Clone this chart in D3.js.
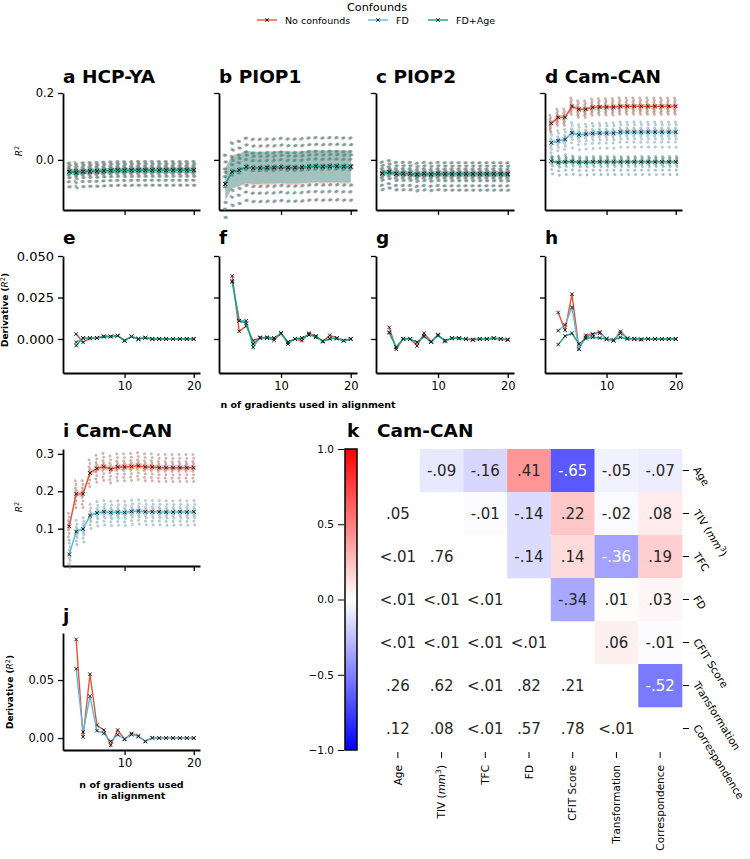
<!DOCTYPE html>
<html><head><meta charset="utf-8">
<script src="https://cdn.jsdelivr.net/npm/d3@7"></script>
<style>
body{margin:0;background:#fff;}
svg{font-family:"DejaVu Sans",sans-serif;display:block;}
</style></head>
<body><div id="fig"></div>
<script>
// ---- data ----
const confounds = ['No confounds', 'FD', 'FD+Age'];
const nGrad = [2,3,4,5,6,7,8,9,10,11,12,13,14,15,16,17,18,19,20];
const nDeriv = [3,4,5,6,7,8,9,10,11,12,13,14,15,16,17,18,19,20];

// R^2 means (a-d, i)
const hcpNo    = [-0.036,-0.033,-0.035,-0.034,-0.034,-0.033,-0.032,-0.032,-0.031,-0.032,-0.031,-0.031,-0.031,-0.031,-0.031,-0.031,-0.031,-0.031,-0.031];
const hcpFD    = [-0.036,-0.038,-0.035,-0.035,-0.034,-0.033,-0.032,-0.031,-0.032,-0.031,-0.031,-0.031,-0.031,-0.031,-0.031,-0.031,-0.031,-0.031,-0.031];
const hcpFDAge = [-0.035,-0.039,-0.035,-0.034,-0.034,-0.033,-0.032,-0.031,-0.032,-0.031,-0.031,-0.031,-0.031,-0.031,-0.031,-0.031,-0.031,-0.031,-0.031];
const p1No     = [-0.072,-0.034,-0.030,-0.022,-0.026,-0.026,-0.026,-0.026,-0.023,-0.025,-0.025,-0.025,-0.022,-0.021,-0.022,-0.021,-0.021,-0.022,-0.022];
const p1FD     = [-0.073,-0.037,-0.031,-0.021,-0.024,-0.024,-0.023,-0.023,-0.021,-0.023,-0.023,-0.022,-0.020,-0.019,-0.020,-0.019,-0.019,-0.020,-0.020];
const p1FDAge  = [-0.072,-0.037,-0.031,-0.021,-0.024,-0.024,-0.023,-0.023,-0.021,-0.023,-0.023,-0.022,-0.020,-0.019,-0.020,-0.019,-0.019,-0.020,-0.020];
const p2No     = [-0.042,-0.036,-0.042,-0.042,-0.042,-0.046,-0.043,-0.044,-0.042,-0.043,-0.043,-0.043,-0.043,-0.043,-0.043,-0.043,-0.043,-0.043,-0.044];
const p2FD     = [-0.041,-0.037,-0.042,-0.042,-0.042,-0.044,-0.042,-0.044,-0.042,-0.043,-0.043,-0.043,-0.043,-0.043,-0.043,-0.043,-0.043,-0.043,-0.043];
const p2FDAge  = [-0.040,-0.036,-0.041,-0.041,-0.041,-0.043,-0.041,-0.043,-0.041,-0.042,-0.042,-0.042,-0.042,-0.042,-0.042,-0.042,-0.042,-0.042,-0.042];
const camNo    = [0.109,0.127,0.127,0.160,0.151,0.151,0.157,0.158,0.158,0.158,0.160,0.160,0.160,0.160,0.160,0.160,0.160,0.160,0.160];
const camFD    = [0.051,0.057,0.061,0.081,0.075,0.077,0.079,0.080,0.080,0.080,0.083,0.083,0.083,0.083,0.083,0.083,0.083,0.083,0.083];
const camFDAge = [-0.004,-0.008,-0.006,-0.005,-0.007,-0.007,-0.006,-0.006,-0.006,-0.006,-0.006,-0.006,-0.006,-0.006,-0.006,-0.006,-0.006,-0.006,-0.006];
const ageNo    = [0.106,0.193,0.193,0.249,0.261,0.266,0.259,0.265,0.265,0.266,0.268,0.265,0.265,0.263,0.263,0.263,0.263,0.263,0.263];
const ageFD    = [0.031,0.092,0.099,0.135,0.142,0.145,0.143,0.144,0.143,0.146,0.147,0.145,0.145,0.145,0.144,0.144,0.145,0.144,0.145];

// per-fold deviations from the mean (dots)
const hcpFolds      = [0.026,0.019,0.012,0.006,0.002,-0.004,-0.010,-0.018,-0.030,-0.045];
const p1Folds       = [0.086,0.066,0.045,0.035,0.022,0.005,-0.008,-0.055,-0.075,-0.100];
const p2Folds       = [0.034,0.024,0.015,0.008,0.002,-0.005,-0.012,-0.020,-0.035,-0.048];
const camFoldsNo    = [0.025,0.018,0.012,0.006,0.002,-0.003,-0.008,-0.013,-0.018,-0.024];
const camFoldsFD    = [0.030,0.022,0.012,0.006,0.001,-0.005,-0.012,-0.020,-0.030,-0.045];
const camFoldsFDAge = [0.016,0.012,0.008,0.004,0.001,-0.003,-0.008,-0.014,-0.025,-0.038];
const ageFoldsNo    = [0.035,0.025,0.016,0.010,0.004,-0.004,-0.010,-0.019,-0.028,-0.037];
const ageFoldsFD    = [0.030,0.020,0.012,0.006,0.001,-0.004,-0.010,-0.016,-0.025,-0.035];

// shaded band half-widths [No, FD, FD+Age]
const hcpBand = [0.008, 0.008, 0.008];
const p1Band  = [0.050, 0.048, 0.048];
const p2Band  = [0.008, 0.008, 0.008];
const camBand = [0.007, 0.008, 0.006];
const ageBand = [0.008, 0.006];

// derivatives (e-h, j)
const eNo    = [0.003,-0.002,0.0005,0.0006,0.0015,0.0015,0.002,-0.001,0.0015,0,0.0008,0,0,0,0,0,0,0];
const eFD    = [-0.002,0.0005,0.0005,0.0006,0.0015,0.0015,0.002,-0.001,0.0015,0,0.0008,0,0,0,0,0,0,0];
const eFDAge = [-0.004,0.0005,0.0005,0.0006,0.0015,0.0015,0.002,-0.001,0.0015,0,0.0008,0,0,0,0,0,0,0];
const fNo    = [0.038,0.0046,0.0078,-0.001,0.0006,0.0006,-0.0008,0.0034,-0.0018,0,-0.001,0.0034,0.0018,-0.0016,0.0022,0.0005,-0.001,0];
const fFD    = [0.035,0.011,0.011,-0.005,0.001,0.0006,0.0006,0.0034,-0.003,0,0.0006,0.003,0.001,-0.0014,0.0002,0.0006,-0.001,0];
const fFDAge = [0.0343,0.011,0.0094,-0.003,0.0006,0.001,0.0006,0.0034,-0.002,0,0.0006,0.0024,0.0016,-0.0012,0.0002,0.0002,-0.001,0];
const gNo    = [0.007,-0.0062,0,0,-0.0042,0.0034,-0.0015,0.0026,-0.0015,0.0005,0.0005,0,-0.0005,0,0,0.0005,0,-0.0006];
const gFD    = [0.004,-0.005,0.0002,0,-0.002,0.0016,-0.0018,0.0022,-0.001,0.0004,0.0004,0,-0.0004,0,0,0.0004,0,-0.0004];
const gFDAge = [0.0038,-0.005,0,0,-0.002,0.0016,-0.0018,0.0022,-0.001,0.0005,0.0004,0,-0.0004,0,0,0.0004,0,-0.0003];
const hNo    = [0.016,0.0054,0.027,-0.0058,0.0022,0.003,0.0042,0,-0.001,0.0046,0.0004,0,-0.0003,0,0,0,0,0];
const hFD    = [0.005,0.0086,0.019,-0.0062,0.001,0.0026,0.0035,0,-0.001,0.0035,0.0004,0,-0.0003,0,0,0,0,0];
const hFDAge = [-0.0034,0.0018,0.0034,-0.003,0.0003,0.001,0.0006,0,-0.0005,0.001,0,0.0002,-0.0002,0,0,0,0,0];
const jNo    = [0.085,0.001,0.055,0.011,0.0069,-0.0063,0.0069,-0.001,0.004,0.0017,-0.0029,0.0003,0,0,0,0,0,0];
const jFD    = [0.0597,0.0052,0.036,0.0063,0.004,-0.0029,0.0029,-0.001,0.003,0.0015,-0.0029,0,0,0,0,0,0,0];

// heatmap k (Cam-CAN)
const hmVars = ['Age', 'TIV', 'TFC', 'FD', 'CFIT Score', 'Transformation', 'Correspondence'];
const corrRows = [
  [null,-0.09,-0.16,0.41,-0.65,-0.05,-0.07],
  [null,null,-0.01,-0.14,0.22,-0.02,0.08],
  [null,null,null,-0.14,0.14,-0.36,0.19],
  [null,null,null,null,-0.34,0.01,0.03],
  [null,null,null,null,null,0.06,-0.01],
  [null,null,null,null,null,null,-0.52],
  [null,null,null,null,null,null,null],
];
const pRows = [
  [],
  ['.05'],
  ['<.01','.76'],
  ['<.01','<.01','<.01'],
  ['<.01','<.01','<.01','<.01'],
  ['.26','.62','<.01','.82','.21'],
  ['.12','.08','<.01','.57','.78','<.01'],
];
const cbTicks = [-1, -0.5, 0, 0.5, 1];

// ---- drawing ----
const COL = ['#ef5038', '#56bcde', '#18a383'];
const W = 750, H = 859;
const svg = d3.select('#fig').append('svg').attr('width', W).attr('height', H).style('background', '#fff');

function styleAxis(g, fs) {
  g.select('.domain').attr('stroke', '#000').attr('stroke-width', 1.8);
  g.selectAll('.tick line').attr('stroke', '#000').attr('stroke-width', 1.3);
  g.selectAll('.tick text').attr('fill', '#000').attr('font-size', fs).attr('font-family', '"DejaVu Sans"');
}

function frame(x, y, yTicks, yFmt, opts) {
  const [x0] = x.range(), [yb] = y.range();
  const gx = svg.append('g').attr('transform', `translate(0,${yb})`)
    .call(d3.axisBottom(x).tickValues([10, 20]).tickSize(5).tickSizeOuter(0).tickPadding(4)
      .tickFormat(opts.xLabels ? d3.format('d') : () => ''));
  styleAxis(gx, opts.xfs || 11.5);
  const gy = svg.append('g').attr('transform', `translate(${x0},0)`)
    .call(d3.axisLeft(y).tickValues(yTicks).tickSize(5).tickSizeOuter(0).tickPadding(4)
      .tickFormat(opts.yLabels ? d3.format(yFmt) : () => ''));
  styleAxis(gy, opts.yfs || 11.5);
}

function xMarks(g, pts, x, y) {
  g.selectAll(null).data(pts).join('path')
    .attr('d', d => { const cx = x(d[0]), cy = y(d[1]); return `M${cx-1.8},${cy-1.8}L${cx+1.8},${cy+1.8}M${cx-1.8},${cy+1.8}L${cx+1.8},${cy-1.8}`; })
    .attr('stroke', '#111').attr('stroke-width', 0.9).attr('fill', 'none');
}

function r2Series(x, y, vals, folds, half, color, dodge) {
  const g = svg.append('g');
  const pts = nGrad.map((n, i) => [n, vals[i]]);
  g.append('path').datum(pts)
    .attr('d', d3.area().x(d => x(d[0])).y0(d => y(d[1] - half)).y1(d => y(d[1] + half)))
    .attr('fill', color).attr('opacity', 0.25);
  const dots = [];
  nGrad.forEach((n, i) => folds.forEach((f, k) => dots.push([n, vals[i] + f, k])));
  g.selectAll(null).data(dots).join('circle')
    .attr('cx', d => x(d[0]) + dodge + ((d[2] % 2) - 0.5) * 0.8)
    .attr('cy', d => y(d[1])).attr('r', 1.15)
    .attr('fill', color).attr('stroke', '#555').attr('stroke-width', 0.5).attr('opacity', 0.5);
  g.append('path').datum(pts).attr('d', d3.line().x(d => x(d[0])).y(d => y(d[1])))
    .attr('fill', 'none').attr('stroke', color).attr('stroke-width', 1.4);
  xMarks(g, pts, x, y);
}

function derivSeries(x, y, vals, color) {
  const g = svg.append('g');
  const pts = nDeriv.map((n, i) => [n, vals[i]]);
  g.append('path').datum(pts).attr('d', d3.line().x(d => x(d[0])).y(d => y(d[1])))
    .attr('fill', 'none').attr('stroke', color).attr('stroke-width', 1.4);
  xMarks(g, pts, x, y);
}

function title(x, y, txt) {
  svg.append('text').attr('x', x).attr('y', y).attr('font-size', 18.5).attr('font-weight', 'bold').text(txt);
}

function rotLabel(x, y, bold, pre, post) {
  const t = svg.append('text').attr('transform', `translate(${x},${y}) rotate(-90)`)
    .attr('text-anchor', 'middle').attr('font-size', 9).attr('font-weight', bold ? 'bold' : 'normal');
  t.append('tspan').text(pre);
  t.append('tspan').attr('font-style', 'italic').attr('font-weight', 'normal').text('R');
  t.append('tspan').attr('font-size', 6.5).attr('dy', -3.5).attr('font-weight', 'normal').text('2');
  t.append('tspan').attr('dy', 3.5).text(post);
}

// legend
svg.append('text').attr('x', 377).attr('y', 11).attr('text-anchor', 'middle').attr('font-size', 11.3).text('Confounds');
const legX = [257, 368, 428];
confounds.forEach((c, i) => {
  const g = svg.append('g');
  g.append('line').attr('x1', legX[i]).attr('x2', legX[i] + 20).attr('y1', 20).attr('y2', 20).attr('stroke', COL[i]).attr('stroke-width', 1.4);
  xMarks(g, [[0, 0]], () => legX[i] + 10, () => 20);
  g.append('text').attr('x', legX[i] + 28).attr('y', 23.5).attr('font-size', 9.5).text(c);
});

// top row a-d and derivative row e-h
const colX = [[63, 200], [219, 357], [376, 514], [545, 682]];
const topData = [
  ['a HCP-YA', [hcpNo, hcpFD, hcpFDAge], [hcpFolds, hcpFolds, hcpFolds], hcpBand, [eNo, eFD, eFDAge], 'e'],
  ['b PIOP1', [p1No, p1FD, p1FDAge], [p1Folds, p1Folds, p1Folds], p1Band, [fNo, fFD, fFDAge], 'f'],
  ['c PIOP2', [p2No, p2FD, p2FDAge], [p2Folds, p2Folds, p2Folds], p2Band, [gNo, gFD, gFDAge], 'g'],
  ['d Cam-CAN', [camNo, camFD, camFDAge], [camFoldsNo, camFoldsFD, camFoldsFDAge], camBand, [hNo, hFD, hFDAge], 'h'],
];
const yTop = d3.scaleLinear([-0.15, 0.2], [210, 93]);
const yDer = d3.scaleLinear([-0.0205, 0.05], [373, 256]);
topData.forEach(([name, means, folds, band, ders, dl], p) => {
  const x = d3.scaleLinear([1.1, 20.9], colX[p]);
  title(colX[p][0], 83, name);
  frame(x, yTop, [0, 0.2], '.1f', { yLabels: p === 0, xLabels: false });
  means.forEach((m, s) => r2Series(x, yTop, m, folds[s], band[s], COL[s], (s - 1) * 0.9));
  title(colX[p][0], 244, dl);
  frame(x, yDer, [0, 0.025, 0.05], '.3f', { yLabels: p === 0, xLabels: true, yfs: 13 });
  ders.forEach((d, s) => derivSeries(x, yDer, d, COL[s]));
});
rotLabel(22, 151, false, '', '');
rotLabel(8, 310, true, 'Derivative (', ')');
svg.append('text').attr('x', 308).attr('y', 408).attr('text-anchor', 'middle')
  .attr('font-size', 9.5).attr('font-weight', 'bold').text('n of gradients used in alignment');

// panel i, j
const xI = d3.scaleLinear([1.1, 20.9], [63, 200]);
const yI = d3.scaleLinear([0.0, 0.313], [566, 449]);
title(63, 437, 'i Cam-CAN');
frame(xI, yI, [0.1, 0.2, 0.3], '.1f', { yLabels: true, xLabels: false });
r2Series(xI, yI, ageNo, ageFoldsNo, ageBand[0], COL[0], -0.5);
r2Series(xI, yI, ageFD, ageFoldsFD, ageBand[1], COL[1], 0.5);
rotLabel(22, 507, false, '', '');

const yJ = d3.scaleLinear([-0.0103, 0.0905], [750, 633]);
title(63, 622, 'j');
frame(xI, yJ, [0, 0.05], '.2f', { yLabels: true, xLabels: true });
derivSeries(xI, yJ, jNo, COL[0]);
derivSeries(xI, yJ, jFD, COL[1]);
rotLabel(13, 692, true, 'Derivative (', ')');
svg.append('text').attr('x', 131.5).attr('y', 788).attr('text-anchor', 'middle')
  .attr('font-size', 9.5).attr('font-weight', 'bold').text('n of gradients used');
svg.append('text').attr('x', 131.5).attr('y', 799).attr('text-anchor', 'middle')
  .attr('font-size', 9.5).attr('font-weight', 'bold').text('in alignment');

// heatmap k
const hx = d3.scaleBand(d3.range(hmVars.length), [376, 682]);
const hy = d3.scaleBand(d3.range(hmVars.length), [449, 750]);
const bwr = d3.scaleLinear([-1, 0, 1], ['#0000ff', '#ffffff', '#ff0000']);
const fmtCorr = v => v.toFixed(2).replace('0.', '.');
title(347, 437, 'k');
title(377, 437, 'Cam-CAN');
const cells = [];
corrRows.forEach((row, r) => row.forEach((v, c) => { if (v !== null) cells.push({ r, c, v }); }));
const hg = svg.append('g');
hg.selectAll('rect').data(cells).join('rect')
  .attr('x', d => hx(d.c)).attr('y', d => hy(d.r)).attr('width', hx.bandwidth() + 0.3).attr('height', hy.bandwidth() + 0.3)
  .attr('fill', d => bwr(d.v));
hg.selectAll('text.c').data(cells).join('text').attr('class', 'c')
  .attr('x', d => hx(d.c) + hx.bandwidth() / 2).attr('y', d => hy(d.r) + hy.bandwidth() / 2)
  .attr('dy', '0.35em').attr('text-anchor', 'middle').attr('font-size', 15)
  .attr('fill', d => d.v <= -0.35 ? '#fff' : '#262626').text(d => fmtCorr(d.v));
const pcells = [];
pRows.forEach((row, r) => row.forEach((s, c) => pcells.push({ r, c, s })));
hg.selectAll('text.p').data(pcells).join('text').attr('class', 'p')
  .attr('x', d => hx(d.c) + hx.bandwidth() / 2).attr('y', d => hy(d.r) + hy.bandwidth() / 2)
  .attr('dy', '0.35em').attr('text-anchor', 'middle').attr('font-size', 15).attr('fill', '#262626').text(d => d.s);

function varLabel(t, name) {
  if (name === 'TIV') {
    t.append('tspan').text('TIV (');
    t.append('tspan').attr('font-style', 'italic').text('mm');
    t.append('tspan').attr('font-size', 7.5).attr('dy', -4).text('3');
    t.append('tspan').attr('dy', 4).text(')');
  } else t.text(name);
}
hmVars.forEach((name, i) => {
  const cy = hy(i) + hy.bandwidth() / 2, cx = hx(i) + hx.bandwidth() / 2;
  svg.append('line').attr('x1', 683).attr('x2', 689).attr('y1', cy).attr('y2', cy).attr('stroke', '#000').attr('stroke-width', 1);
  varLabel(svg.append('text').attr('font-size', 10.5).attr('text-anchor', 'start')
    .attr('transform', `translate(696,${cy - 3}) rotate(58)`).attr('dy', '0.35em'), name);
  svg.append('line').attr('x1', cx).attr('x2', cx).attr('y1', 752).attr('y2', 758).attr('stroke', '#000').attr('stroke-width', 1);
  varLabel(svg.append('text').attr('font-size', 10.5).attr('text-anchor', 'end')
    .attr('transform', `translate(${cx},765) rotate(-90)`).attr('dy', '0.35em'), name);
});

// colorbar
const cbY = d3.scaleLinear([-1, 1], [750, 449]);
const defs = svg.append('defs');
const grad = defs.append('linearGradient').attr('id', 'cb').attr('x1', 0).attr('x2', 0).attr('y1', 1).attr('y2', 0);
[-1, 0, 1].forEach(v => grad.append('stop').attr('offset', (v + 1) / 2).attr('stop-color', bwr(v)));
svg.append('rect').attr('x', 345).attr('y', 449).attr('width', 12).attr('height', 301)
  .attr('fill', 'url(#cb)').attr('stroke', '#000').attr('stroke-width', 1.5);
const gcb = svg.append('g').attr('transform', 'translate(344,0)')
  .call(d3.axisLeft(cbY).tickValues(cbTicks).tickFormat(d3.format('.1f')).tickSize(6).tickSizeOuter(0).tickPadding(4));
gcb.select('.domain').remove();
gcb.selectAll('.tick line').attr('stroke', '#000').attr('stroke-width', 1);
gcb.selectAll('.tick text').attr('fill', '#000').attr('font-size', 10.5).attr('font-family', '"DejaVu Sans"');
</script>
</body></html>
